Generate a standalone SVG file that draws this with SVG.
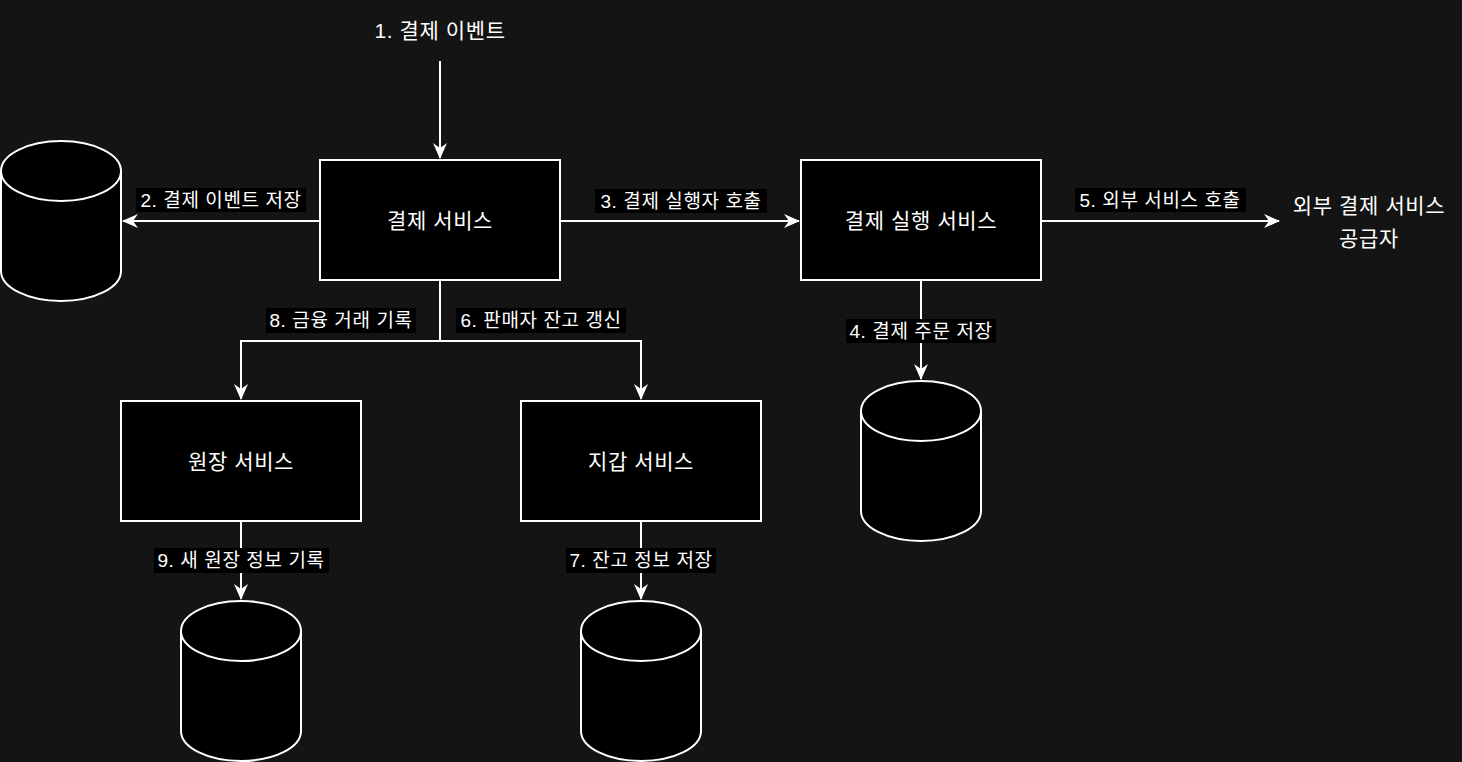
<svg xmlns="http://www.w3.org/2000/svg" width="1462" height="762" viewBox="0 0 1462 762">
<defs>
<style>
.box{fill:#000;stroke:#fff;stroke-width:2}
.db{fill:#000;stroke:#fff;stroke-width:2}
.edge{fill:none;stroke:#fff;stroke-width:2}
.t{font-family:"Liberation Sans","Noto Sans CJK KR",sans-serif;fill:#fff;text-anchor:middle;dominant-baseline:central}
.nt{font-size:21px;letter-spacing:0.6px}
.lt{font-size:19px;letter-spacing:0.6px}
.lbg{fill:#000}
</style>
<marker id="arr" viewBox="0 0 16 14" refX="15" refY="7" markerWidth="16" markerHeight="14" markerUnits="userSpaceOnUse" orient="auto">
<path d="M0,0 L16,7 L0,14 L5,7 Z" fill="#fff"/>
</marker>
</defs>
<rect width="1462" height="762" fill="#141414"/>

<g id="connectors">
<path class="edge" d="M440,61 V158" marker-end="url(#arr)"/>
<path class="edge" d="M320,221 H123" marker-end="url(#arr)"/>
<path class="edge" d="M560,221 H799" marker-end="url(#arr)"/>
<path class="edge" d="M1041,221 H1279" marker-end="url(#arr)"/>
<path class="edge" d="M921,280 V379" marker-end="url(#arr)"/>
<path class="edge" d="M440,280 V341 H241 V399" marker-end="url(#arr)"/>
<path class="edge" d="M440,341 H641 V399" marker-end="url(#arr)"/>
<path class="edge" d="M241,521 V599" marker-end="url(#arr)"/>
<path class="edge" d="M641,521 V599" marker-end="url(#arr)"/>

<rect class="lbg" x="136" y="188" width="170" height="24"/>
<text class="t lt" x="221" y="200">2. 결제 이벤트 저장</text>
<rect class="lbg" x="595" y="189" width="172" height="24"/>
<text class="t lt" x="681" y="201">3. 결제 실행자 호출</text>
<rect class="lbg" x="1075" y="188" width="171" height="24"/>
<text class="t lt" x="1160" y="200">5. 외부 서비스 호출</text>
<rect class="lbg" x="846" y="319" width="150" height="24"/>
<text class="t lt" x="921" y="331">4. 결제 주문 저장</text>
<rect class="lbg" x="266" y="308" width="150" height="25"/>
<text class="t lt" x="341" y="320">8. 금융 거래 기록</text>
<rect class="lbg" x="456" y="308" width="170" height="25"/>
<text class="t lt" x="541" y="320">6. 판매자 잔고 갱신</text>
<rect class="lbg" x="154" y="548" width="175" height="25"/>
<text class="t lt" x="241" y="560">9. 새 원장 정보 기록</text>
<rect class="lbg" x="566" y="548" width="150" height="25"/>
<text class="t lt" x="641" y="560">7. 잔고 정보 저장</text>
</g>

<g id="event-label">
<text class="t nt" x="440" y="30">1. 결제 이벤트</text>
</g>

<g id="payment-service">
<rect class="box" x="320" y="160" width="240" height="120"/>
<text class="t nt" x="440" y="220">결제 서비스</text>
</g>

<g id="payment-executor">
<rect class="box" x="801" y="160" width="240" height="120"/>
<text class="t nt" x="921" y="220">결제 실행 서비스</text>
</g>

<g id="ledger-service">
<rect class="box" x="121" y="401" width="240" height="120"/>
<text class="t nt" x="241" y="461">원장 서비스</text>
</g>

<g id="wallet-service">
<rect class="box" x="521" y="401" width="240" height="120"/>
<text class="t nt" x="641" y="461">지갑 서비스</text>
</g>

<g id="external-psp">
<text class="t nt" x="1369" y="205">외부 결제 서비스</text>
<text class="t nt" x="1369" y="238">공급자</text>
</g>

<g id="event-db">
<path class="db" d="M1,171 A60,30 0 0 1 121,171 V271 A60,30 0 0 1 1,271 Z"/>
<path class="db" d="M1,171 A60,30 0 0 0 121,171" fill="none"/>
</g>

<g id="order-db">
<path class="db" d="M861,411 A60,30 0 0 1 981,411 V511 A60,30 0 0 1 861,511 Z"/>
<path class="db" d="M861,411 A60,30 0 0 0 981,411" fill="none"/>
</g>

<g id="ledger-db">
<path class="db" d="M181,631 A60,30 0 0 1 301,631 V731 A60,30 0 0 1 181,731 Z"/>
<path class="db" d="M181,631 A60,30 0 0 0 301,631" fill="none"/>
</g>

<g id="wallet-db">
<path class="db" d="M581,631 A60,30 0 0 1 701,631 V731 A60,30 0 0 1 581,731 Z"/>
<path class="db" d="M581,631 A60,30 0 0 0 701,631" fill="none"/>
</g>
</svg>
